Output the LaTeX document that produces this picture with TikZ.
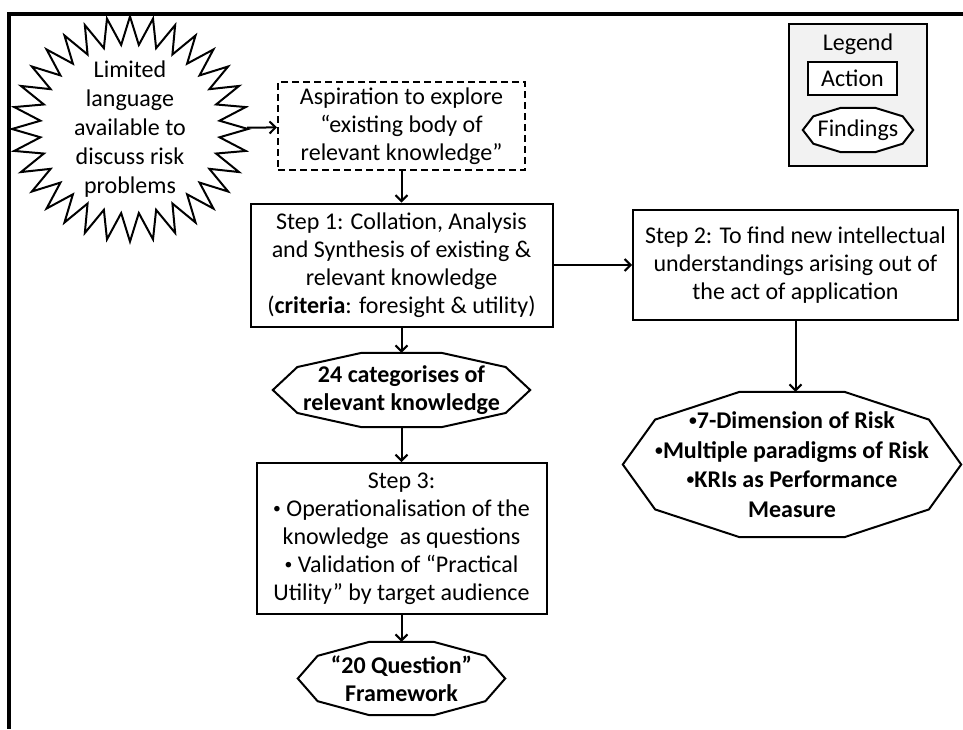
\documentclass[tikz,border=0pt]{standalone}
\usepackage{fontspec}
\usepackage{graphicx}
\setmainfont{Carlito}
\usetikzlibrary{shapes.symbols,arrows.meta,calc,backgrounds}

\newcommand{\bodyfont}{\fontsize{24}{28}\selectfont}
\newcommand{\dotmark}{\raisebox{0.12em}{\scalebox{0.65}{\textbullet}}}
% decagon round a findings node, flat on top and bottom
\newcommand{\decagonpath}[1]{let \p1=($(#1.north east)-(#1.center)$) in
  ($(#1.center)+(\x1,0)$) -- ($(#1.center)+(0.809*\x1,0.618*\y1)$)
  -- ($(#1.center)+(0.309*\x1,\y1)$) -- ($(#1.center)+(-0.309*\x1,\y1)$)
  -- ($(#1.center)+(-0.809*\x1,0.618*\y1)$) -- ($(#1.center)+(-\x1,0)$)
  -- ($(#1.center)+(-0.809*\x1,-0.618*\y1)$) -- ($(#1.center)+(-0.309*\x1,-\y1)$)
  -- ($(#1.center)+(0.309*\x1,-\y1)$) -- ($(#1.center)+(0.809*\x1,-0.618*\y1)$) -- cycle}

\begin{document}
\begin{tikzpicture}[x=1pt, y=-1pt,
  action/.style={draw, line width=2pt, fill=white, align=center, inner sep=0pt, font=\bodyfont},
  aspiration/.style={action, dash pattern=on 7pt off 4pt},
  findings/.style={align=center, inner sep=0pt, font=\bodyfont\bfseries},
  findline/.style={draw, line width=2pt, fill=white},
  burst/.style={draw, line width=2pt, shape=starburst, starburst points=32,
    starburst point height=28pt, random starburst=0, align=center,
    font=\fontsize{24}{29}\selectfont, minimum width=236pt, minimum height=225pt,
    inner xsep=0pt, inner ysep=-20pt},
  link/.style={line width=2pt, -{Straight Barb[length=6pt, width=12pt]}},
]
    \useasboundingbox (0,0) rectangle (963,729);
    \draw[line width=4pt] (963,13.5) -- (9,13.5) -- (9,729);

    % legend
    \begin{scope}[on background layer]
        \node[draw, line width=2pt, fill=black!5, minimum width=138pt, minimum height=142pt] (legend) at (858,95) {};
    \end{scope}
    \node[font=\bodyfont] (legtitle) at (858,44) {Legend};
    \node[action, minimum width=89pt, minimum height=33pt] (legact) at (852.5,78.5) {Action};
    \node[findings, font=\bodyfont, minimum width=110pt, minimum height=44pt] (legfind) at (858,130) {Findings};

    \node[burst] (burst) at (130,129) {Limited\\language\\available to\\discuss risk\\problems};
    \node[aspiration, minimum width=247pt, minimum height=88pt] (aspire) at (401.5,126)
        {Aspiration to explore\\“existing body of\\relevant knowledge”};
    \node[action, minimum width=302pt, minimum height=123pt] (step1) at (401.5,265)
        {Step 1: Collation, Analysis\\and Synthesis of existing \&\\relevant knowledge\\(\textbf{criteria}: foresight \& utility)};
    \node[action, minimum width=325pt, minimum height=110pt] (step2) at (795.5,265)
        {Step 2: To find new intellectual\\understandings arising out of\\the act of application};
    \node[findings, minimum width=257pt, minimum height=74pt] (cat) at (401.5,390)
        {24 categorises of\\relevant knowledge};
    \node[action, minimum width=290pt, minimum height=151pt] (step3) at (401.5,538.5)
        {Step 3:\\\dotmark{} Operationalisation of the\\knowledge\ \ as questions\\\dotmark{} Validation of “Practical\\Utility” by target audience};
    \node[findings, minimum width=207pt, minimum height=73pt] (q20) at (401.5,678.5)
        {“20 Question”\\Framework};
    \node[findings, minimum width=338pt, minimum height=145pt, font=\fontsize{24}{29.5}\selectfont\bfseries] (dim) at (792,464.5)
        {\dotmark7-Dimension of Risk\\\dotmark Multiple paradigms of Risk\\\dotmark KRIs as Performance\\Measure};

    \begin{scope}[on background layer]
        \draw[findline] \decagonpath{cat};
        \draw[findline] \decagonpath{q20};
        \draw[findline] \decagonpath{dim};
        \draw[findline] \decagonpath{legfind};
    \end{scope}

    \draw[link] (burst) -- (aspire);
    \draw[link] (aspire) -- (step1);
    \draw[link] (step1) -- (step2);
    \draw[link] (step1) -- (cat);
    \draw[link] (cat) -- (step3);
    \draw[link] (step3) -- (q20);
    \draw[link] (step2) -- (step2 |- dim.north);
\end{tikzpicture}
\end{document}
